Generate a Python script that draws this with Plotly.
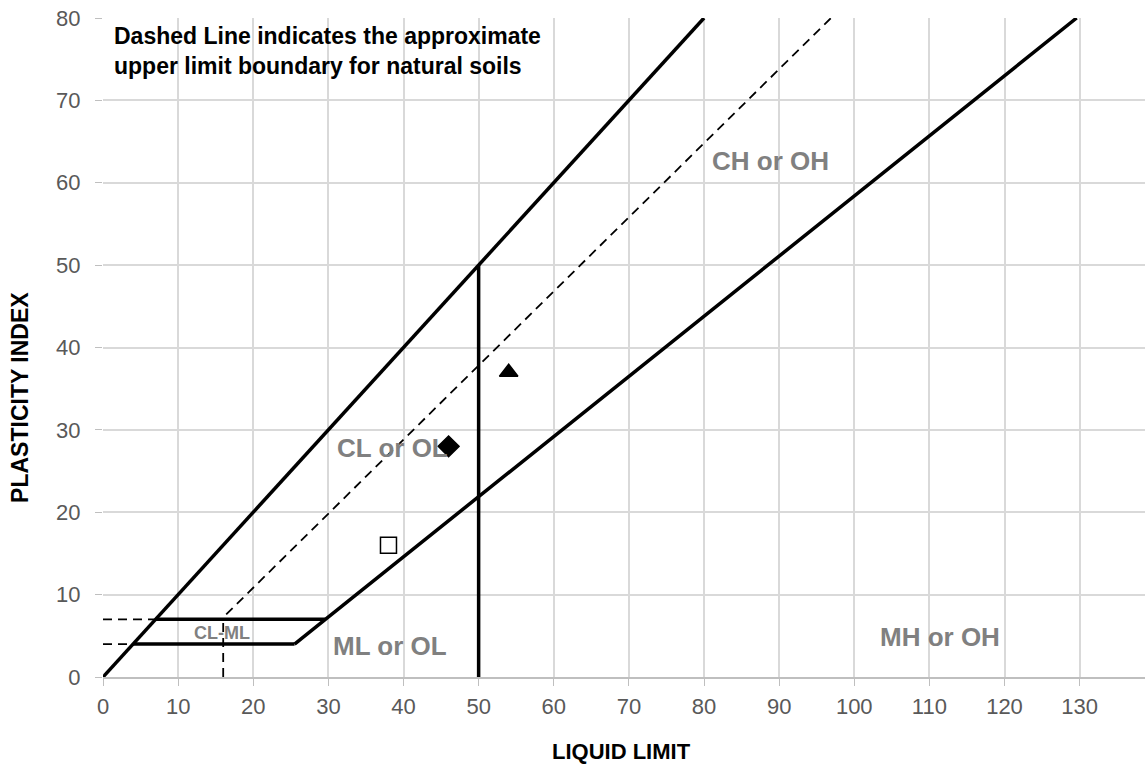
import plotly.graph_objects as go

# Boundary lines (liquid limit, plasticity index)
a_line_x = [25.5, 29.6, 129.6]
a_line_y = [4, 7, 80]
diag_x = [0, 80]
diag_y = [0, 80]
vert50_x = [50, 50]
vert50_y = [0, 50]
low_h_x = [4, 25.5]
low_h_y = [4, 4]
up_h_x = [7, 29.6]
up_h_y = [7, 7]
u_line_x = [16.4, 96.9]
u_line_y = [7.6, 80]
dash_h7_x = [0, 7]
dash_h7_y = [7, 7]
dash_h4_x = [0, 4]
dash_h4_y = [4, 4]
dash_v16_x = [16, 16]
dash_v16_y = [0, 7]

# Samples
samples = [
    {"ll": 38, "pi": 16, "symbol": "square-open"},
    {"ll": 46, "pi": 28, "symbol": "diamond"},
    {"ll": 54, "pi": 37, "symbol": "triangle-up"},
]

# Zone labels
zone_labels = ["CL or OL", "CH or OH", "ML or OL", "MH or OH", "CL-ML"]
zone_x = [38.5, 88.8, 38.2, 111.4, 15.85]
zone_y = [27.8, 62.6, 3.8, 4.8, 5.3]
zone_size = [26, 26, 26, 26, 18]

FONT = "Liberation Sans, Arial"

fig = go.Figure()

def add_line(x, y, width=3.5, dash="solid"):
    fig.add_trace(go.Scatter(x=x, y=y, mode="lines",
                             line=dict(color="black", width=width, dash=dash),
                             hoverinfo="skip", showlegend=False))

add_line(a_line_x, a_line_y)
add_line(diag_x, diag_y)
add_line(vert50_x, vert50_y)
add_line(low_h_x, low_h_y)
add_line(up_h_x, up_h_y)
add_line(u_line_x, u_line_y, width=1.8, dash="9px,6px")
add_line(dash_h7_x, dash_h7_y, width=1.8, dash="9px,6px")
add_line(dash_h4_x, dash_h4_y, width=1.8, dash="9px,6px")
add_line(dash_v16_x, dash_v16_y, width=1.8, dash="9px,6px")

for s in samples:
    fig.add_trace(go.Scatter(x=[s["ll"]], y=[s["pi"]], mode="markers",
                             marker=dict(symbol=s["symbol"], size=16, color="black",
                                         line=dict(color="black", width=1.5)),
                             showlegend=False))

for t, x, y, sz in zip(zone_labels, zone_x, zone_y, zone_size):
    fig.add_annotation(x=x, y=y, text="<b>" + t + "</b>", showarrow=False,
                       font=dict(family=FONT, size=sz, color="#808080"))

fig.add_annotation(xref="paper", yref="paper", x=0.009, y=0.995, xanchor="left", yanchor="top",
                   align="left", showarrow=False,
                   text="<b>Dashed Line indicates the approximate<br>upper limit boundary for natural soils</b>",
                   font=dict(family=FONT, size=23, color="black"))

# Axis titles
fig.add_annotation(xref="paper", yref="paper", x=0.4975, y=-0.1123, xanchor="center", yanchor="middle",
                   showarrow=False, text="<b>LIQUID LIMIT</b>",
                   font=dict(family=FONT, size=22, color="black"))
fig.add_annotation(xref="paper", yref="paper", x=-0.0797, y=0.425, xanchor="center", yanchor="middle",
                   showarrow=False, textangle=-90, text="<b>PLASTICITY INDEX</b>",
                   font=dict(family=FONT, size=23, color="black"))

fig.update_layout(
    width=1145, height=765,
    margin=dict(l=103, r=0, t=18, b=88),
    plot_bgcolor="white", paper_bgcolor="white",
    font=dict(family=FONT, size=22, color="#595959"),
    xaxis=dict(range=[0, 138.7], tickmode="array", tickvals=list(range(0, 131, 10)),
               showgrid=True, gridcolor="#d9d9d9", gridwidth=1.5, zeroline=False,
               showline=True, linecolor="#bfbfbf", linewidth=1.5,
               ticks="outside", ticklen=7, tickcolor="#bfbfbf", ticklabelstandoff=2),
    yaxis=dict(range=[0, 80], dtick=10, showgrid=True, gridcolor="#d9d9d9", gridwidth=1.5,
               zeroline=False, showline=False,
               ticks="outside", ticklen=7, tickcolor="#bfbfbf", ticklabelstandoff=10),
)

fig.write_html("out.html", config={"displayModeBar": False},
               post_script="document.body.style.margin='0px';")
